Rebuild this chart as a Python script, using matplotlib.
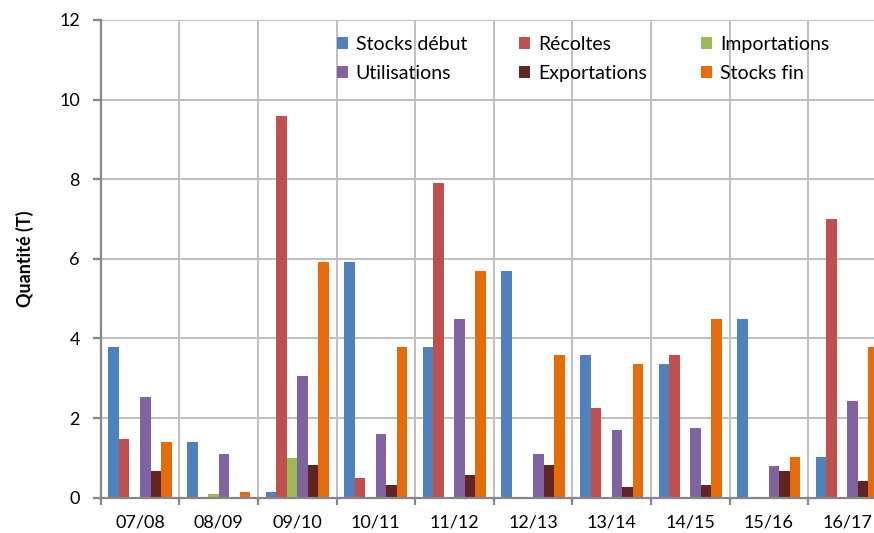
import matplotlib
matplotlib.use("Agg")
import matplotlib.pyplot as plt
import numpy as np

plt.rcParams['font.family'] = ['Lato', 'DejaVu Sans']

categories = ["07/08", "08/09", "09/10", "10/11", "11/12", "12/13", "13/14", "14/15", "15/16", "16/17"]
series_names = ["Stocks début", "Récoltes", "Importations", "Utilisations", "Exportations", "Stocks fin"]
stocks_debut = [3.78, 1.39, 0.14, 5.91, 3.78, 5.69, 3.58, 3.35, 4.50, 1.02]
recoltes = [1.47, 0.0, 9.58, 0.49, 7.90, 0.0, 2.25, 3.58, 0.0, 6.99]
importations = [0.0, 0.085, 0.99, 0.0, 0.0, 0.0, 0.0, 0.0, 0.0, 0.0]
utilisations = [2.53, 1.11, 3.05, 1.61, 4.48, 1.11, 1.69, 1.74, 0.79, 2.42]
exportations = [0.66, 0.0, 0.81, 0.31, 0.56, 0.81, 0.26, 0.31, 0.68, 0.41]
stocks_fin = [1.39, 0.14, 5.91, 3.78, 5.69, 3.58, 3.35, 4.50, 1.02, 3.78]
y_ticks = [0, 2, 4, 6, 8, 10, 12]

series = [stocks_debut, recoltes, importations, utilisations, exportations, stocks_fin]
colors = ["#4F81BD", "#C0504D", "#9BBB59", "#8064A2", "#632523", "#E46C0A"]

fig = plt.figure(figsize=(8.74, 5.33), dpi=100)
W, H = 874, 533
left_px, right_px, top_px, bottom_px = 100.7, 886.7, 20.0, 497.7
ax = fig.add_axes([left_px / W, 1 - bottom_px / H, (right_px - left_px) / W, (bottom_px - top_px) / H])

x = np.arange(len(categories))
bw = 0.134
start = -0.5 + 0.098
bars = []
for j, (vals, col, name) in enumerate(zip(series, colors, series_names)):
    b = ax.bar(x + start + (j + 0.5) * bw, vals, width=bw, color=col, label=name, zorder=3, linewidth=0)
    bars.append(b)

ax.set_xlim(-0.5, len(categories) - 0.5)
ax.set_ylim(0, 12)
ax.set_yticks(y_ticks)
ax.set_xticks(x)
ax.set_xticklabels(categories)
ax.set_xticks(np.arange(len(categories) + 1) - 0.5, minor=True)

grid_c = "#BFBFBF"
axis_c = "#868686"
ax.grid(axis='y', which='major', color=grid_c, linewidth=1.4, zorder=0)
ax.grid(axis='x', which='minor', color=grid_c, linewidth=1.4, zorder=0)
ax.grid(axis='x', which='major', visible=False)
for s in ['top', 'right']:
    ax.spines[s].set_visible(False)
for s in ['left', 'bottom']:
    ax.spines[s].set_color(axis_c)
    ax.spines[s].set_linewidth(1.6)
    ax.spines[s].set_zorder(4)

ax.tick_params(axis='x', which='major', length=0, labelsize=13, pad=12, colors='#000000')
ax.tick_params(axis='x', which='minor', length=5, width=1.6, color=axis_c, direction='out')
ax.tick_params(axis='y', which='major', length=6, width=1.6, color=axis_c, labelsize=13, pad=9, labelcolor='#000000')

ax.set_ylabel("Quantité (T)", fontsize=13, fontweight='bold', labelpad=18)

# legend: three columns placed at fixed x positions
col_x = [337, 519, 701]
handles = [bars[0], bars[3], bars[1], bars[4], bars[2], bars[5]]
labels = [series_names[0], series_names[3], series_names[1], series_names[4], series_names[2], series_names[5]]
legs = []
for c in range(3):
    leg = fig.legend(handles[2 * c:2 * c + 2], labels[2 * c:2 * c + 2],
                     loc='upper left', bbox_to_anchor=(col_x[c] / W, 1 - 36 / H),
                     frameon=False, fontsize=14, handlelength=0.57, handleheight=0.57,
                     handletextpad=0.4, labelspacing=0.62, borderpad=0, borderaxespad=0)
    legs.append(leg)

fig.savefig("out.png", dpi=100)
